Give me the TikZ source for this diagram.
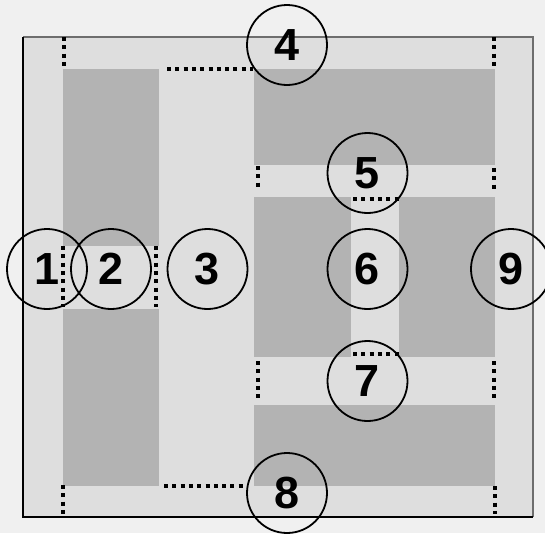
\documentclass[tikz,border=0pt]{standalone}
\usepackage{fontspec}
\setmainfont{Liberation Sans}
\usepackage{tikz}
\usetikzlibrary{positioning}
\definecolor{pagegray}{RGB}{240, 240, 240}
\definecolor{framegray}{RGB}{222, 222, 222}
\definecolor{blockgray}{RGB}{179, 179, 179}
\definecolor{edgegray}{RGB}{110, 110, 110}

\begin{document}
\begin{tikzpicture}[x=1pt, y=-1pt,
    block/.style={fill=blockgray, draw=none},
    gap/.style={line width=4pt, dash pattern=on 4pt off 4.3pt, black},
    marker/.style={circle, draw, line width=1.8pt, minimum size=80pt, inner sep=0pt,
                   font=\fontsize{45}{45}\selectfont\bfseries}]
  \useasboundingbox[fill=pagegray] (0,0) rectangle (545,533);
  % outer frame
  \fill[framegray] (23,37) rectangle (533,517);
  \draw[edgegray, line width=1.2pt] (23,37) -- (533,37) -- (533,517);
  \draw[black, line width=1.2pt] (23,37) -- (23,517) -- (533,517);
  % left column blocks
  \fill[block] (63,69) rectangle (159,246);
  \fill[block] (63,309) rectangle (159,486);
  % right part blocks
  \fill[block] (254,69) rectangle (495,165);
  \fill[block] (254,197) rectangle (351,357);
  \fill[block] (399,197) rectangle (495,357);
  \fill[block] (254,405) rectangle (495,486);
  % spacing marks
  \draw[gap] (64,37) -- (64,67);
  \draw[gap] (494,37) -- (494,67);
  \draw[gap] (167,69) -- (253,69);
  \draw[gap] (257.5,166) -- (257.5,188);
  \draw[gap] (494,168) -- (494,190);
  \draw[gap] (353,199) -- (401,199);
  \draw[gap] (63,246) -- (63,307);
  \draw[gap] (155.5,246) -- (155.5,307);
  \draw[gap] (353,354) -- (401,354);
  \draw[gap] (257.5,361) -- (257.5,399);
  \draw[gap] (494,361) -- (494,399);
  \draw[gap] (164,486) -- (244,486);
  \draw[gap] (62.5,485) -- (62.5,514);
  \draw[gap] (495,486) -- (495,514);
  % numbered markers
  \node[marker] (m1) at (47,269) {1};
  \node[marker] (m2) at (111,269) {2};
  \node[marker] (m3) at (207.5,269) {3};
  \node[marker] (m4) at (287,45) {4};
  \node[marker] (m5) at (367.5,173) {5};
  \node[marker] (m6) at (367.5,269) {6};
  \node[marker] (m7) at (367.5,381) {7};
  \node[marker] (m8) at (287,493) {8};
  \node[marker] (m9) at (511,269) {9};
\end{tikzpicture}
\end{document}
